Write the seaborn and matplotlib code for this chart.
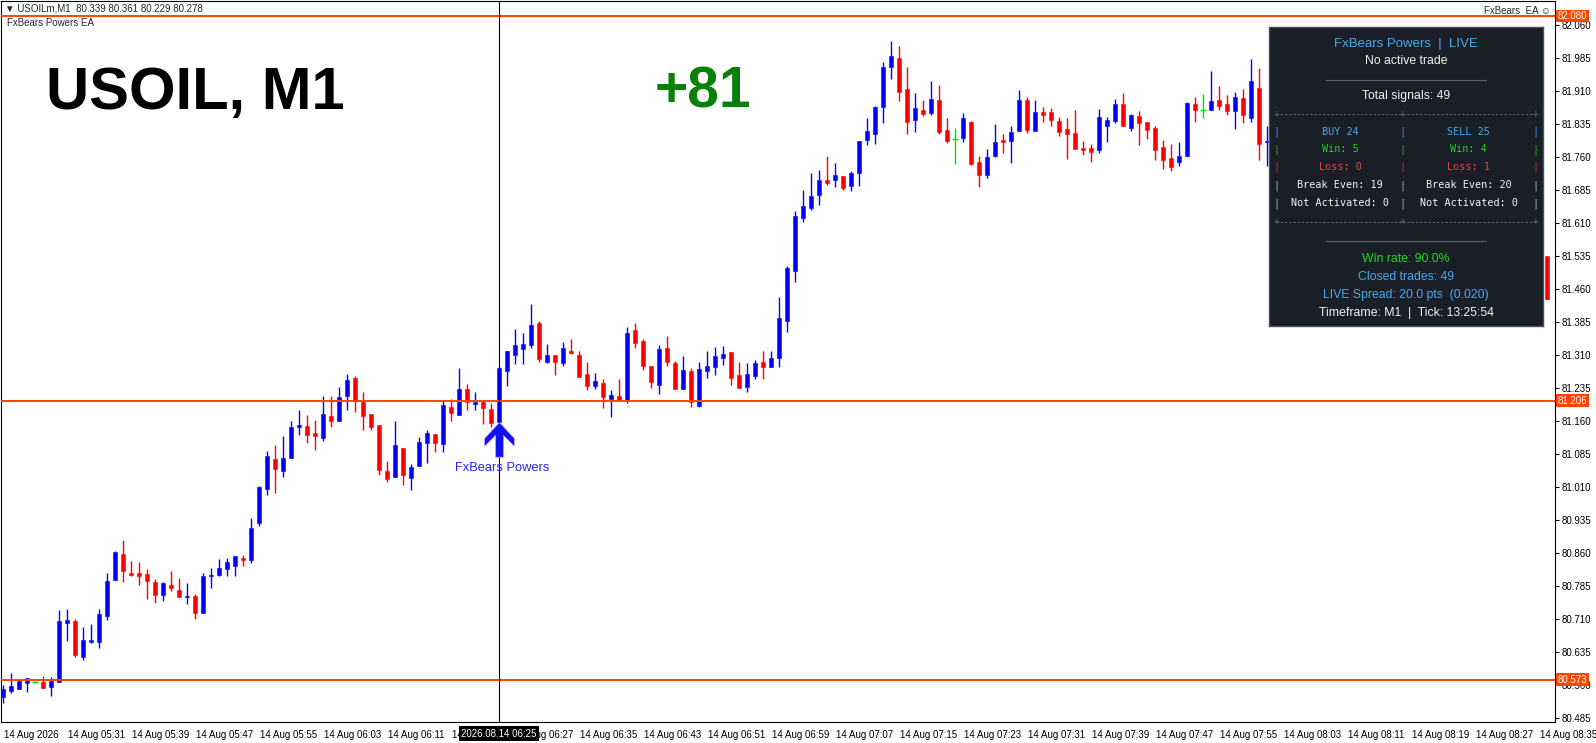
import numpy as np
import pandas as pd
import matplotlib
matplotlib.use("Agg")
import matplotlib.pyplot as plt
import seaborn as sns
from matplotlib.path import Path
from matplotlib.transforms import ScaledTranslation, blended_transform_factory

# --- 1. candle data (USOILm M1, one bar per minute from 05:23) ---
opens = [80.534, 80.548, 80.552, 80.566, 80.567, 80.567, 80.557, 80.568, 80.702, 80.706,
         80.625, 80.659, 80.659, 80.718, 80.799, 80.858, 80.816, 80.816, 80.813, 80.795,
         80.766, 80.788, 80.776, 80.760, 80.763, 80.723, 80.807, 80.810, 80.825, 80.831,
         80.849, 80.844, 80.928, 81.006, 81.074, 81.047, 81.077, 81.147, 81.149, 81.133,
         81.122, 81.171, 81.161, 81.217, 81.258, 81.203, 81.176, 81.151, 81.046, 81.034,
         81.099, 81.031, 81.057, 81.110, 81.131, 81.107, 81.192, 81.174, 81.233, 81.199,
         81.203, 81.187, 81.158, 81.274, 81.310, 81.324, 81.333, 81.383, 81.294, 81.310,
         81.292, 81.318, 81.310, 81.267, 81.240, 81.247, 81.211, 81.217, 81.206, 81.367,
         81.342, 81.285, 81.242, 81.326, 81.292, 81.233, 81.274, 81.195, 81.274, 81.283,
         81.304, 81.317, 81.265, 81.238, 81.263, 81.294, 81.283, 81.303, 81.388, 81.501,
         81.621, 81.645, 81.674, 81.708, 81.708, 81.717, 81.694, 81.723, 81.798, 81.813,
         81.873, 81.964, 81.985, 81.914, 81.844, 81.866, 81.860, 81.889, 81.821, 81.801,
         81.803, 81.840, 81.748, 81.719, 81.762, 81.799, 81.797, 81.819, 81.889, 81.819,
         81.862, 81.862, 81.842, 81.823, 81.814, 81.780, 81.780, 81.776, 81.831, 81.842,
         81.880, 81.826, 81.853, 81.839, 81.826, 81.783, 81.757, 81.749, 81.763, 81.880,
         81.866, 81.867, 81.889, 81.880, 81.865, 81.894, 81.849, 81.916, 81.794, 81.535]
highs = [80.561, 80.588, 80.572, 80.576, 80.570, 80.581, 80.579, 80.731, 80.733, 80.710,
         80.692, 80.699, 80.733, 80.815, 80.865, 80.890, 80.842, 80.840, 80.824, 80.802,
         80.795, 80.820, 80.804, 80.793, 80.767, 80.815, 80.826, 80.847, 80.849, 80.853,
         80.856, 80.940, 81.012, 81.092, 81.106, 81.126, 81.160, 81.185, 81.174, 81.162,
         81.217, 81.217, 81.237, 81.267, 81.263, 81.226, 81.176, 81.151, 81.069, 81.160,
         81.099, 81.063, 81.124, 81.139, 81.131, 81.208, 81.210, 81.280, 81.244, 81.226,
         81.208, 81.201, 81.285, 81.319, 81.369, 81.360, 81.426, 81.388, 81.335, 81.310,
         81.340, 81.346, 81.319, 81.294, 81.269, 81.256, 81.231, 81.256, 81.374, 81.383,
         81.346, 81.285, 81.333, 81.353, 81.296, 81.308, 81.280, 81.294, 81.319, 81.328,
         81.331, 81.317, 81.294, 81.292, 81.299, 81.319, 81.319, 81.442, 81.512, 81.637,
         81.685, 81.723, 81.730, 81.762, 81.746, 81.717, 81.728, 81.796, 81.848, 81.876,
         81.975, 82.023, 82.012, 81.964, 81.905, 81.889, 81.932, 81.923, 81.848, 81.825,
         81.860, 81.842, 81.762, 81.778, 81.835, 81.812, 81.830, 81.912, 81.896, 81.889,
         81.873, 81.871, 81.851, 81.848, 81.866, 81.796, 81.789, 81.869, 81.851, 81.891,
         81.905, 81.857, 81.864, 81.839, 81.830, 81.798, 81.789, 81.794, 81.885, 81.896,
         81.903, 81.955, 81.921, 81.901, 81.907, 81.914, 81.982, 81.962, 81.829, 81.535]
lows = [80.519, 80.543, 80.552, 80.545, 80.565, 80.554, 80.536, 80.567, 80.661, 80.625,
        80.617, 80.657, 80.645, 80.708, 80.799, 80.795, 80.807, 80.788, 80.755, 80.747,
        80.752, 80.775, 80.761, 80.745, 80.711, 80.723, 80.781, 80.808, 80.808, 80.808,
        80.831, 80.838, 80.922, 80.992, 80.997, 81.034, 81.077, 81.129, 81.111, 81.095,
        81.115, 81.146, 81.161, 81.184, 81.181, 81.140, 81.140, 81.037, 81.022, 81.034,
        81.015, 81.003, 81.057, 81.064, 81.090, 81.090, 81.161, 81.174, 81.186, 81.186,
        81.154, 81.147, 81.151, 81.240, 81.290, 81.290, 81.326, 81.293, 81.292, 81.265,
        81.285, 81.312, 81.261, 81.231, 81.233, 81.190, 81.170, 81.206, 81.200, 81.325,
        81.276, 81.236, 81.222, 81.284, 81.233, 81.233, 81.193, 81.193, 81.258, 81.265,
        81.288, 81.242, 81.236, 81.226, 81.256, 81.256, 81.283, 81.283, 81.362, 81.476,
        81.612, 81.640, 81.651, 81.696, 81.692, 81.685, 81.683, 81.694, 81.787, 81.789,
        81.837, 81.937, 81.887, 81.812, 81.816, 81.853, 81.855, 81.812, 81.792, 81.744,
        81.794, 81.742, 81.692, 81.713, 81.760, 81.769, 81.745, 81.819, 81.815, 81.819,
        81.840, 81.831, 81.808, 81.756, 81.779, 81.765, 81.749, 81.769, 81.794, 81.838,
        81.831, 81.819, 81.788, 81.801, 81.754, 81.733, 81.729, 81.740, 81.763, 81.840,
        81.849, 81.867, 81.867, 81.854, 81.823, 81.838, 81.840, 81.754, 81.740, 81.437]
closes = [80.551, 80.558, 80.570, 80.576, 80.567, 80.554, 80.569, 80.706, 80.708, 80.629,
          80.663, 80.663, 80.722, 80.797, 80.863, 80.820, 80.810, 80.808, 80.797, 80.766,
          80.792, 80.781, 80.761, 80.763, 80.723, 80.808, 80.810, 80.826, 80.840, 80.853,
          80.844, 80.917, 81.010, 81.081, 81.052, 81.076, 81.147, 81.151, 81.129, 81.125,
          81.176, 81.161, 81.215, 81.254, 81.206, 81.171, 81.147, 81.049, 81.029, 81.106,
          81.037, 81.056, 81.113, 81.133, 81.111, 81.196, 81.179, 81.233, 81.203, 81.203,
          81.190, 81.156, 81.280, 81.319, 81.333, 81.335, 81.379, 81.302, 81.310, 81.293,
          81.326, 81.315, 81.261, 81.240, 81.251, 81.215, 81.219, 81.206, 81.361, 81.338,
          81.286, 81.249, 81.324, 81.294, 81.233, 81.276, 81.204, 81.278, 81.285, 81.308,
          81.312, 81.258, 81.236, 81.267, 81.292, 81.283, 81.303, 81.394, 81.508, 81.626,
          81.648, 81.671, 81.708, 81.701, 81.719, 81.689, 81.723, 81.796, 81.819, 81.873,
          81.964, 81.989, 81.907, 81.839, 81.871, 81.857, 81.891, 81.816, 81.796, 81.801,
          81.848, 81.744, 81.719, 81.760, 81.794, 81.794, 81.816, 81.889, 81.822, 81.862,
          81.856, 81.844, 81.817, 81.813, 81.779, 81.776, 81.772, 81.851, 81.844, 81.880,
          81.831, 81.855, 81.838, 81.822, 81.776, 81.754, 81.738, 81.762, 81.882, 81.867,
          81.866, 81.887, 81.876, 81.865, 81.896, 81.854, 81.932, 81.790, 81.797, 81.437]
# bars 05:23 .. 08:01 are visible, bars under the panel are not, last bar is 08:36
bar_times = list(pd.date_range("2026-08-14 05:23", periods=159, freq="min")) + [pd.Timestamp("2026-08-14 08:36")]

level_prices = [82.080, 81.206, 80.573]
signal_time = pd.Timestamp("2026-08-14 06:25")
cross_label = "2026.08.14 06:25"

x_tick_times = ["05:23", "05:31", "05:39", "05:47", "05:55", "06:03", "06:11", "06:19", "06:27",
                "06:35", "06:43", "06:51", "06:59", "07:07", "07:15", "07:23", "07:31", "07:39",
                "07:47", "07:55", "08:03", "08:11", "08:19", "08:27", "08:35"]
x_tick_labels = ["14 Aug 2026"] + ["14 Aug " + t for t in x_tick_times[1:]]
price_ticks = np.round(np.arange(80.485, 82.0601, 0.075), 3)

W, H = 1596, 743
BULL, BEAR, DOJI = "#0000ff", "#ff0000", "#00e000"
LEVEL = "#ff4500"

# --- 2. frame ---
sns.set_theme(style="white")
plt.rcParams['font.family'] = ['Liberation Sans', 'DejaVu Sans']

df = pd.DataFrame({"time": bar_times, "open": opens, "high": highs, "low": lows, "close": closes})
t0 = df["time"].iloc[0]
df["x"] = (df["time"] - t0).dt.total_seconds() / 60
df["color"] = np.where(df["close"] > df["open"], BULL, np.where(df["close"] < df["open"], BEAR, DOJI))
body = (df["close"] - df["open"]).abs()

fig = plt.figure(figsize=(W / 100, H / 100), dpi=100)
ax = fig.add_axes([1 / W, 21 / H, 1554 / W, 721 / H])
ax.set_facecolor("white")

# --- 3. candles ---
ax.vlines(df["x"], df["low"], df["high"], colors=df["color"], lw=1.0, zorder=2)
ax.bar(df["x"], body, bottom=df[["open", "close"]].min(axis=1), width=0.6,
       color=df["color"], edgecolor=df["color"], lw=0.4, zorder=3)
doji = df[body == 0]
ax.hlines(doji["close"], doji["x"] - 0.35, doji["x"] + 0.35, colors=DOJI, lw=1.0, zorder=3)

# levels + crosshair
for p in level_prices:
    ax.axhline(p, color=LEVEL, lw=1.4, zorder=4)
sig_x = (signal_time - t0).total_seconds() / 60
ax.axvline(sig_x, color="black", lw=0.8, zorder=5)

# signal arrow below the signal candle
sig = df[df["time"] == signal_time].iloc[0]
arrow = Path([(0, 0), (15, -16), (15, -24), (4, -13), (4, -35), (-4, -35), (-4, -13),
              (-15, -24), (-15, -16), (0, 0)], closed=True)
ax.plot([sig_x], [sig["open"]], marker=arrow, ms=50, color="#1010f0", mec="#b8a8ff", mew=0.5,
        zorder=6, clip_on=False)
ax.annotate("FxBears Powers", (sig_x, sig["open"]), xytext=(2, -33), textcoords="offset points",
            ha="center", va="center", fontsize=9.3, color="#2626f5", zorder=6)

# --- 4. axes ---
ax.set_xlim(-0.25, 194.0)
ax.set_ylim(80.4765, 82.114)
for s in ax.spines.values():
    s.set_color("black")
    s.set_linewidth(0.8)

ax.yaxis.tick_right()
ax.set_yticks(price_ticks)
ax.set_yticklabels([f"{p:.3f}" for p in price_ticks])
tick_x = [(pd.Timestamp("2026-08-14 " + t) - t0).total_seconds() / 60 for t in x_tick_times]
ax.set_xticks(tick_x)
ax.set_xticklabels(x_tick_labels)
ax.tick_params(axis="both", direction="out", length=3, width=0.8, color="black",
               labelsize=7, labelcolor="black", pad=2)
ax.tick_params(axis="x", pad=3)
for lab in ax.get_xticklabels():
    lab.set_ha("left")
    lab.set_transform(lab.get_transform() + ScaledTranslation(1 / 100, 0, fig.dpi_scale_trans))

# price labels of the levels on the axis
yt = blended_transform_factory(ax.transAxes, ax.transData)
for p in level_prices:
    ax.text(1.0017, p, f"{p:.3f}", transform=yt, ha="left", va="center", fontsize=7, color="white",
            bbox=dict(boxstyle="square,pad=0.15", fc=LEVEL, ec="none"), zorder=10, clip_on=False)

# crosshair time label
xt = blended_transform_factory(ax.transData, ax.transAxes)
ax.text(sig_x, -0.0165, cross_label, transform=xt, ha="center", va="center", fontsize=7,
        color="white", bbox=dict(boxstyle="square,pad=0.25", fc="black", ec="none"),
        zorder=10, clip_on=False)

# --- 5. chart texts ---
def fx(x):
    return x / W

def fy(y):
    return 1 - y / H

fig.text(fx(5), fy(8.5), "▼ USOILm,M1  80.339 80.361 80.229 80.278", fontsize=7, va="center",
         family=['Liberation Sans', 'DejaVu Sans'])
fig.text(fx(7), fy(23.5), "FxBears Powers EA", fontsize=7, va="center")
fig.text(fx(1551), fy(10.5), "FxBears  EA ☺", fontsize=7, va="center", ha="right",
         family=['Liberation Sans', 'DejaVu Sans'])
fig.text(fx(46), fy(109), "USOIL, M1", fontsize=43, fontweight="bold", color="black", va="baseline")
fig.text(fx(655), fy(108), "+81", fontsize=41, fontweight="bold", color="#0a800a", va="baseline")

# --- 6. info panel ---
pan = fig.add_axes([fx(1269), fy(326), 274 / W, 299 / H], zorder=20)
pan.set_facecolor("#1a1e27")
pan.set_xlim(1269, 1543)
pan.set_ylim(326, 27)
pan.set_xticks([])
pan.set_yticks([])
for s in pan.spines.values():
    s.set_color("#4b505a")
    s.set_linewidth(1.0)

LBLUE, GREEN, RED, WHITE, GREY = "#47a9e8", "#22d322", "#e04848", "#f2f2f2", "#5a606a"
cx = 1406
pan.text(cx, 43.5, "FxBears Powers  |  LIVE", color=LBLUE, fontsize=9.5, ha="center", va="center")
pan.text(cx, 60.5, "No active trade", color=WHITE, fontsize=8.8, ha="center", va="center")
pan.text(cx, 96.5, "Total signals: 49", color=WHITE, fontsize=8.8, ha="center", va="center")
for yy in (79.5, 240.5):
    pan.plot([1326, 1486], [yy, yy], color="#5c6069", lw=0.8)
for yy in (114, 221.5):
    pan.plot([1276, 1536], [yy, yy], color=GREY, lw=0.8, ls=(0, (2.2, 1.6)))
    for xx in (1276.5, 1402.7, 1535.5):
        pan.text(xx, yy, "+", color=GREY, fontsize=7, ha="center", va="center",
                 family="DejaVu Sans Mono")

rows_y = [131.7, 149.3, 167, 185.3, 203.3]
left_txt = ["BUY 24", "Win: 5", "Loss: 0", "Break Even: 19", "Not Activated: 0"]
right_txt = ["SELL 25", "Win: 4", "Loss: 1", "Break Even: 20", "Not Activated: 0"]
row_col = [LBLUE, GREEN, RED, WHITE, WHITE]
bar_col = ["#3d8fe0", "#1fae1f", "#a83a3a", "#9fb2c8", "#9fb2c8"]
for yy, lt, rt, tc, bc in zip(rows_y, left_txt, right_txt, row_col, bar_col):
    pan.text(1340, yy, lt, color=tc, fontsize=7.3, ha="center", va="center", family="DejaVu Sans Mono")
    pan.text(1468.7, yy, rt, color=tc, fontsize=7.3, ha="center", va="center", family="DejaVu Sans Mono")
    for xx in (1276.7, 1402.7, 1535):
        pan.text(xx, yy, "|", color=bc, fontsize=7.3, ha="center", va="center", family="DejaVu Sans Mono")

pan.text(cx, 258.7, "Win rate: 90.0%", color=GREEN, fontsize=8.8, ha="center", va="center")
pan.text(cx, 276.7, "Closed trades: 49", color=LBLUE, fontsize=8.8, ha="center", va="center")
pan.text(cx, 295, "LIVE Spread: 20.0 pts  (0.020)", color=LBLUE, fontsize=8.8, ha="center", va="center")
pan.text(cx, 312.7, "Timeframe: M1  |  Tick: 13:25:54", color=WHITE, fontsize=8.8, ha="center", va="center")

fig.savefig("out.png", dpi=100)
